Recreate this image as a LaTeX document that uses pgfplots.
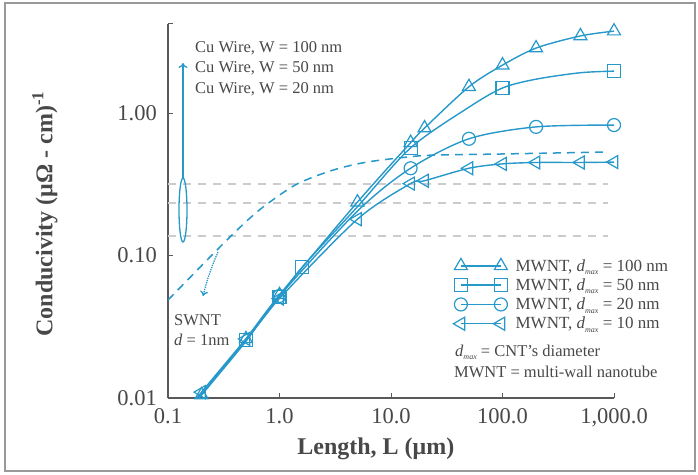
\documentclass[border=0pt]{standalone}
\usepackage{fontspec}
\setmainfont{Liberation Serif}
\usepackage{pgfplots}
\pgfplotsset{compat=1.18}
\usetikzlibrary{arrows.meta}

\definecolor{cnt}{RGB}{38,152,202}
\definecolor{txt}{RGB}{72,72,72}
\definecolor{cuwire}{RGB}{204,204,204}

% italic d with a small, low "max" subscript
\newcommand{\dmax}{\textit{d}\raisebox{-3.5pt}{\fontsize{8}{8}\selectfont\itshape max}}
\newcommand{\notefont}{\fontsize{16.5}{20}\selectfont}

\begin{document}
\begin{tikzpicture}[x=1pt,y=1pt]
\useasboundingbox (-168,-76) rectangle (530,398);
\draw[black!40, line width=2pt] (-163,-73) rectangle (527,395);

\begin{axis}[
  at={(0,0)}, anchor=south west,
  scale only axis, width=446pt, height=374pt,
  xmode=log, ymode=log,
  xmin=0.1, xmax=1000, ymin=0.01, ymax=4.22,
  axis x line*=bottom, axis y line*=left,
  axis line style={draw=black!65, line width=1.3pt, -},
  xtick={0.1,1,10,100,1000},
  xticklabels={0.1,1.0,10.0,100.0,{1,000.0}},
  ytick={0.01,0.1,1,4.22},
  yticklabels={0.01,0.10,1.00,{}},
  xminorticks=false, yminorticks=false,
  tick align=inside, major tick length=5pt,
  tick style={draw=black!65, line width=1pt},
  ticklabel style={font=\fontsize{22.5}{26}\selectfont, text=txt},
  xticklabel style={anchor=north, inner sep=0pt, yshift=-10pt},
  yticklabel style={anchor=east, inner sep=0pt, xshift=-11pt},
  xlabel={Length, L (μm)},
  ylabel={Conducivity (μΩ - cm)\textsuperscript{-1}},
  xlabel style={at={(axis description cs:0.466,-0.152)}, anchor=base,
                font=\bfseries\fontsize{24}{28}\selectfont, text=txt},
  ylabel style={at={(axis description cs:-0.276,0.492)}, anchor=center,
                font=\bfseries\fontsize{24}{28}\selectfont, text=txt},
  clip mode=individual,
  cntline/.style={draw=cnt, line width=1.4pt, smooth,
                  mark options={solid, line width=1.2pt, draw=cnt, fill=none}},
  legend style={at={(axis description cs:0.639,0.377)}, anchor=north west,
                draw=none, fill=none, inner sep=0pt, row sep=2pt,
                font=\fontsize{17}{20}\selectfont, text=txt,
                cells={anchor=west}},
  legend image code/.code={%
      \path (-7pt,0pt) (52pt,0pt);
      \draw[mark repeat=2,mark phase=1]
      plot coordinates {(0pt,0pt) (20pt,0pt) (40pt,0pt)};},
]

% Cu wire reference levels (W = 100, 50, 20 nm)
\addplot[forget plot, draw=cuwire, line width=1.5pt, dash pattern=on 8pt off 7pt]
  coordinates {(0.1,0.318) (880,0.318)};
\addplot[forget plot, draw=cuwire, line width=1.5pt, dash pattern=on 8pt off 7pt]
  coordinates {(0.1,0.234) (880,0.234)};
\addplot[forget plot, draw=cuwire, line width=1.5pt, dash pattern=on 8pt off 7pt]
  coordinates {(0.1,0.137) (880,0.137)};

% SWNT, d = 1 nm
\addplot[forget plot, draw=cnt, line width=1.5pt, smooth, dash pattern=on 8pt off 6pt]
  coordinates {(0.1,0.0487) (0.238,0.0976) (0.383,0.1416) (0.544,0.1834)
               (0.773,0.2298) (1.435,0.3175) (3.02,0.398) (6.09,0.453)
               (13.9,0.491) (23.8,0.507) (95,0.516) (883,0.533)};

% MWNT, d_max = 100 nm  (mark indices count from 0)
\addplot[forget plot, cntline, mark=triangle, mark size=7.5pt, mark indices={1,2,3,4,5,6,7,8,9,10,11}]
  coordinates {(0.18,0.0094) (0.2,0.0105) (0.5,0.026) (1,0.053) (5,0.237)
               (15,0.62) (20,0.785) (50,1.53) (100,2.17) (200,2.86)
               (500,3.48) (1000,3.76)};
% MWNT, d_max = 50 nm
\addplot[forget plot, cntline, mark=square, mark size=6.5pt, mark indices={2,3,4,6,8,11}]
  coordinates {(0.18,0.0096) (0.2,0.0107) (0.5,0.0255) (1,0.051) (1.6,0.083)
               (5,0.22) (15,0.57) (50,1.10) (100,1.50) (200,1.73) (500,1.92)
               (1000,1.97)};
% MWNT, d_max = 20 nm
\addplot[forget plot, cntline, mark=o, mark size=6.5pt, mark indices={3,5,6,7,8}]
  coordinates {(0.18,0.0095) (0.2,0.0105) (0.5,0.025) (1,0.052) (5,0.205)
               (15,0.41) (50,0.66) (200,0.80) (1000,0.824)};
% MWNT, d_max = 10 nm
\addplot[forget plot, cntline, mark=triangle, mark size=7.5pt,
         mark options={solid, line width=1.2pt, draw=cnt, fill=none, rotate=90},
         mark indices={1,2,3,4,5,6,7,8,9,10,11}]
  coordinates {(0.18,0.0098) (0.2,0.011) (0.5,0.026) (1,0.05) (5,0.18)
               (15,0.32) (20,0.335) (50,0.41) (100,0.44) (200,0.45)
               (500,0.45) (1000,0.453)};

\addlegendimage{cntline, mark=triangle, mark size=7.5pt}
\addlegendentry{MWNT, \dmax\ = 100 nm}
\addlegendimage{cntline, mark=square, mark size=6.5pt}
\addlegendentry{MWNT, \dmax\ = 50 nm}
\addlegendimage{cntline, mark=o, mark size=6.5pt}
\addlegendentry{MWNT, \dmax\ = 20 nm}
\addlegendimage{cntline, mark=triangle, mark size=7.5pt,
  mark options={solid, line width=1.2pt, draw=cnt, fill=none, rotate=90}}
\addlegendentry{MWNT, \dmax\ = 10 nm}
\end{axis}

% annotations, placed in image-like coordinates (origin top left, y downwards)
\begin{scope}[shift={(-168pt,398pt)}, x=1pt, y=-1pt]
  \draw[cnt, line width=1.3pt] (183,210) ellipse [x radius=4, y radius=32];
  \draw[cnt, line width=1.3pt, -{To[length=5pt, width=9pt]}] (183,178) -- (183,63);
  \draw[cnt, line width=1.3pt, densely dotted, -{To[length=5pt, width=8pt]}]
    (218,252) .. controls (211,268) and (207,280) .. (203,296);
  \begin{scope}[every node/.style={anchor=base west, text=txt, font=\notefont, inner sep=0pt}]
    \node at (195,53) {Cu Wire, W = 100 nm};
    \node at (195,73) {Cu Wire, W = 50 nm};
    \node at (195,94) {Cu Wire, W = 20 nm};
    \node at (174,325) {SWNT};
    \node at (174,345) {\textit{d} = 1nm};
    \node at (455,356) {\dmax\ = CNT's diameter};
    \node at (454,377) {MWNT = multi-wall nanotube};
  \end{scope}
\end{scope}
\end{tikzpicture}
\end{document}
